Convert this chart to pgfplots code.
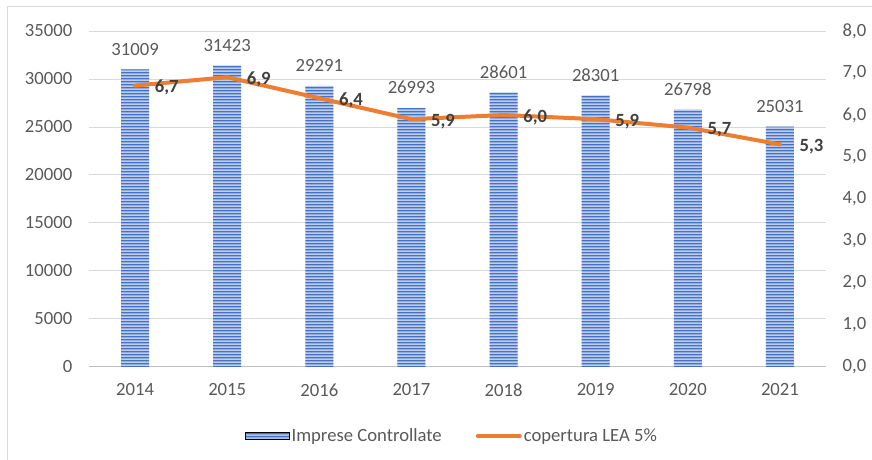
\documentclass[border=0pt]{standalone}
\usepackage{fontspec}
\setmainfont{Carlito}
\usepackage{pgfplots}
\pgfplotsset{compat=1.18}
\usetikzlibrary{patterns}

\definecolor{txtgray}{HTML}{595959}
\definecolor{lblgray}{HTML}{404040}
\definecolor{gridgray}{HTML}{D9D9D9}
\definecolor{zerogray}{HTML}{BFBFBF}
\definecolor{barblue}{HTML}{4472C4}
\definecolor{barlight}{HTML}{BCCDEB}
\definecolor{leaorange}{HTML}{ED7D31}

% horizontal stripes, wide tile to avoid seams
\pgfdeclarepatternformonly{hstripes}{\pgfpointorigin}{\pgfqpoint{200pt}{2.4pt}}{\pgfqpoint{200pt}{2.4pt}}{
  \pgfsetlinewidth{1.25pt}
  \pgfpathmoveto{\pgfqpoint{-1pt}{1.2pt}}
  \pgfpathlineto{\pgfqpoint{201pt}{1.2pt}}
  \pgfusepath{stroke}
}

\tikzset{
  stripes/.style={fill=barlight, draw=none,
    postaction={pattern=hstripes, pattern color=barblue}},
}

\begin{document}
\begin{tikzpicture}
\useasboundingbox (0,0) rectangle (654pt,345pt);
\draw[gridgray, line width=0.75pt] (5.25pt,0pt) -- (5.25pt,339.75pt) -- (654pt,339.75pt);

% bars: Imprese Controllate
\begin{axis}[
    at={(66.75pt,69.75pt)}, anchor=south west,
    scale only axis, width=552.75pt, height=252pt,
    xmin=-0.5, xmax=7.5, ymin=0, ymax=35000,
    xtick={0,...,7},
    xticklabels={2014,2015,2016,2017,2018,2019,2020,2021},
    ytick={0,5000,...,35000},
    scaled y ticks=false,
    ymajorgrids, grid style={draw=gridgray, line width=0.75pt},
    axis x line*=bottom, axis y line*=left,
    axis line style={-},
    y axis line style={draw=none},
    x axis line style={draw=zerogray, line width=0.75pt},
    major tick length=0pt,
    tick label style={font=\fontsize{14}{16}\selectfont, text=txtgray},
    xticklabel style={yshift=-9pt},
    yticklabel style={xshift=-9pt},
    /pgf/number format/assume math mode=true,
    /pgf/number format/1000 sep={},
    ybar, bar width=21pt,
    nodes near coords,
    nodes near coords style={font=\fontsize{14}{16}\selectfont, text=txtgray, yshift=7pt},
]
\addplot[stripes] coordinates {
    (0,31009) (1,31423) (2,29291) (3,26993)
    (4,28601) (5,28301) (6,26798) (7,25031)
};
\end{axis}

% line: copertura LEA 5%
\begin{axis}[
    at={(66.75pt,69.75pt)}, anchor=south west,
    scale only axis, width=552.75pt, height=252pt,
    xmin=-0.5, xmax=7.5, ymin=0, ymax=8,
    ytick={0,1,...,8},
    axis x line=none, axis y line*=right,
    y axis line style={draw=none},
    major tick length=0pt,
    tick label style={font=\fontsize{14}{16}\selectfont, text=txtgray},
    yticklabel style={xshift=9pt},
    /pgf/number format/assume math mode=true,
    /pgf/number format/fixed,
    /pgf/number format/fixed zerofill,
    /pgf/number format/precision=1,
    /pgf/number format/use comma,
    legend style={at={(0.4925,-0.205)}, anchor=center, draw=none, fill=none,
        legend columns=2, font=\fontsize{14}{16}\selectfont, text=txtgray,
        nodes={inner xsep=1.5pt},
        /tikz/every even column/.append style={column sep=24pt}},
]
\addlegendimage{legend image code/.code={
    \path[stripes] (0pt,-2.4pt) rectangle (33pt,2.4pt);}}
\addlegendentry{Imprese Controllate}
\addplot[leaorange, line width=3pt, line join=round, line cap=round,
    nodes near coords,
    nodes near coords style={font=\fontsize{14}{16}\selectfont\bfseries, text=lblgray,
        anchor=west, xshift=10pt, yshift=-1.5pt},
    legend image code/.code={
    \draw[leaorange, line width=3pt, line cap=round] (0pt,0pt) -- (31.5pt,0pt);}]
    coordinates {
    (0,6.7) (1,6.9) (2,6.4) (3,5.9)
    (4,6.0) (5,5.9) (6,5.7) (7,5.3)
};
\addlegendentry{copertura LEA 5\%}
\end{axis}
\end{tikzpicture}
\end{document}
